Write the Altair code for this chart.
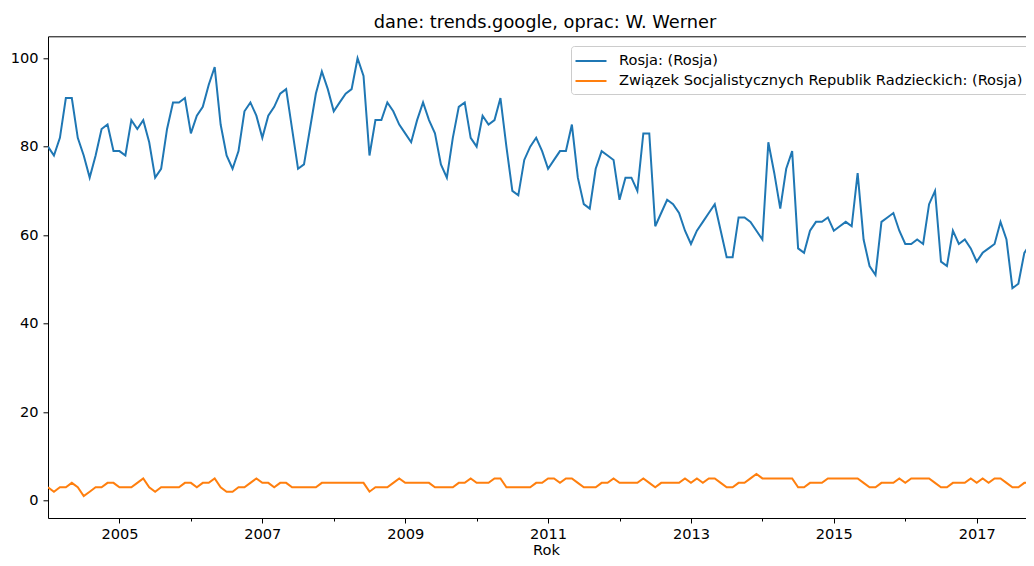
import altair as alt
import pandas as pd

start_month = "2004-01-01"
s1 = "Rosja: (Rosja)"
s2 = "Związek Socjalistycznych Republik Radzieckich: (Rosja)"

rosja = [
    80, 78, 82, 91, 91, 82, 78, 73, 78, 84,
    85, 79, 79, 78, 86, 84, 86, 81, 73, 75,
    84, 90, 90, 91, 83, 87, 89, 94, 98, 85,
    78, 75, 79, 88, 90, 87, 82, 87, 89, 92,
    93, 84, 75, 76, 84, 92, 97, 93, 88, 90,
    92, 93, 100, 96, 78, 86, 86, 90, 88, 85,
    83, 81, 86, 90, 86, 83, 76, 73, 82, 89,
    90, 82, 80, 87, 85, 86, 91, 80, 70, 69,
    77, 80, 82, 79, 75, 77, 79, 79, 85, 73,
    67, 66, 75, 79, 78, 77, 68, 73, 73, 70,
    83, 83, 62, 65, 68, 67, 65, 61, 58, 61,
    63, 65, 67, 61, 55, 55, 64, 64, 63, 61,
    59, 81, 74, 66, 75, 79, 57, 56, 61, 63,
    63, 64, 61, 62, 63, 62, 74, 59, 53, 51,
    63, 64, 65, 61, 58, 58, 59, 58, 67, 70,
    54, 53, 61, 58, 59, 57, 54, 56, 57, 58,
    63, 59, 48, 49, 56, 58, 62,
]

zsrr = [
    3, 2, 3, 3, 4, 3, 1, 2, 3, 3,
    4, 4, 3, 3, 3, 4, 5, 3, 2, 3,
    3, 3, 3, 4, 4, 3, 4, 4, 5, 3,
    2, 2, 3, 3, 4, 5, 4, 4, 3, 4,
    4, 3, 3, 3, 3, 3, 4, 4, 4, 4,
    4, 4, 4, 4, 2, 3, 3, 3, 4, 5,
    4, 4, 4, 4, 4, 3, 3, 3, 3, 4,
    4, 5, 4, 4, 4, 5, 5, 3, 3, 3,
    3, 3, 4, 4, 5, 5, 4, 5, 5, 4,
    3, 3, 3, 4, 4, 5, 4, 4, 4, 4,
    5, 4, 3, 4, 4, 4, 4, 5, 4, 5,
    4, 5, 5, 4, 3, 3, 4, 4, 5, 6,
    5, 5, 5, 5, 5, 5, 3, 3, 4, 4,
    4, 5, 5, 5, 5, 5, 5, 4, 3, 3,
    4, 4, 4, 5, 4, 5, 5, 5, 5, 4,
    3, 3, 4, 4, 4, 5, 4, 5, 4, 5,
    5, 4, 3, 3, 4, 4, 5,
]

year_ticks = list(range(2005, 2018))
y_ticks = [0, 20, 40, 60, 80, 100]
x_end = 2017.69  # right edge of the visible (cropped) plot area

n = len(rosja)
months = pd.date_range(start_month, periods=n, freq="MS")
rok = [float(d.year + (d.month - 1) / 12) for d in months]

df = pd.DataFrame({
    "Rok": rok + rok,
    "value": rosja + zsrr,
    "series": [s1] * n + [s2] * n,
    "order": list(range(n)) * 2,
})

FONT = "DejaVu Sans"
FS = 14.6
W = 978
H = 481.7
PAD = {"left": 40, "top": 28.3, "right": 0, "bottom": 40}

xscale = alt.Scale(domain=[2004, x_end], nice=False, zero=False)
yscale = alt.Scale(domain=[-3.95, 104.95], nice=False, zero=False)

lines = alt.Chart(df).mark_line(strokeWidth=2, clip=True).encode(
    x=alt.X(
        "Rok:Q",
        scale=xscale,
        axis=alt.Axis(
            values=year_ticks,
            format="d",
            labelExpr="datum.value % 2 == 1 ? datum.label : ''",
            tickSize={"condition": {"test": "datum.value % 2 == 1", "value": 5}, "value": 3},
            labelOverlap=False,
            labelFlush=False,
            labelPadding=3,
            grid=False,
            title="Rok",
            titlePadding=2.3,
            titleX=498,
        ),
    ),
    y=alt.Y(
        "value:Q",
        scale=yscale,
        axis=alt.Axis(values=y_ticks, grid=False, title=None, tickSize=5, labelPadding=5),
    ),
    color=alt.Color(
        "series:N",
        scale=alt.Scale(domain=[s1, s2], range=["#1f77b4", "#ff7f0e"]),
        legend=alt.Legend(
            orient="none",
            legendX=523,
            legendY=9.7,
            title=None,
            symbolType="M-2,0H2",
            symbolSize=240,
            symbolStrokeWidth=2,
            symbolOffset=5,
            labelOffset=19,
            labelLimit=1000,
            labelFont=FONT,
            labelFontSize=FS,
            labelColor="black",
            padding=6,
            rowPadding=4,
            fillColor="white",
            strokeColor="#cccccc",
            cornerRadius=3,
        ),
    ),
    order="order:Q",
)

# top spine (frame line above the plot)
top_spine = alt.Chart(df).mark_point(opacity=0).encode(
    x=alt.X(
        "Rok:Q",
        scale=xscale,
        axis=alt.Axis(orient="top", labels=False, ticks=False, title=None, grid=False, domain=True),
    ),
    y=alt.Y("value:Q", scale=yscale),
)

chart = alt.layer(lines, top_spine).resolve_axis(x="independent").properties(
    width=W,
    height=H,
    title=alt.TitleParams(
        "dane: trends.google, oprac: W. Werner",
        anchor="middle",
        font=FONT,
        fontSize=17.8,
        fontWeight="normal",
        color="black",
        offset=5,
        dx=8,
    ),
    padding=PAD,
    autosize="none",
).configure_view(
    stroke=None
).configure_axis(
    domainColor="black",
    tickColor="black",
    labelColor="black",
    labelFont=FONT,
    labelFontSize=FS,
    titleFont=FONT,
    titleFontSize=FS,
    titleFontWeight="normal",
    titleColor="black",
    tickSize=5,
)

chart.save("out.html", embed_options={"renderer": "svg", "actions": False})
